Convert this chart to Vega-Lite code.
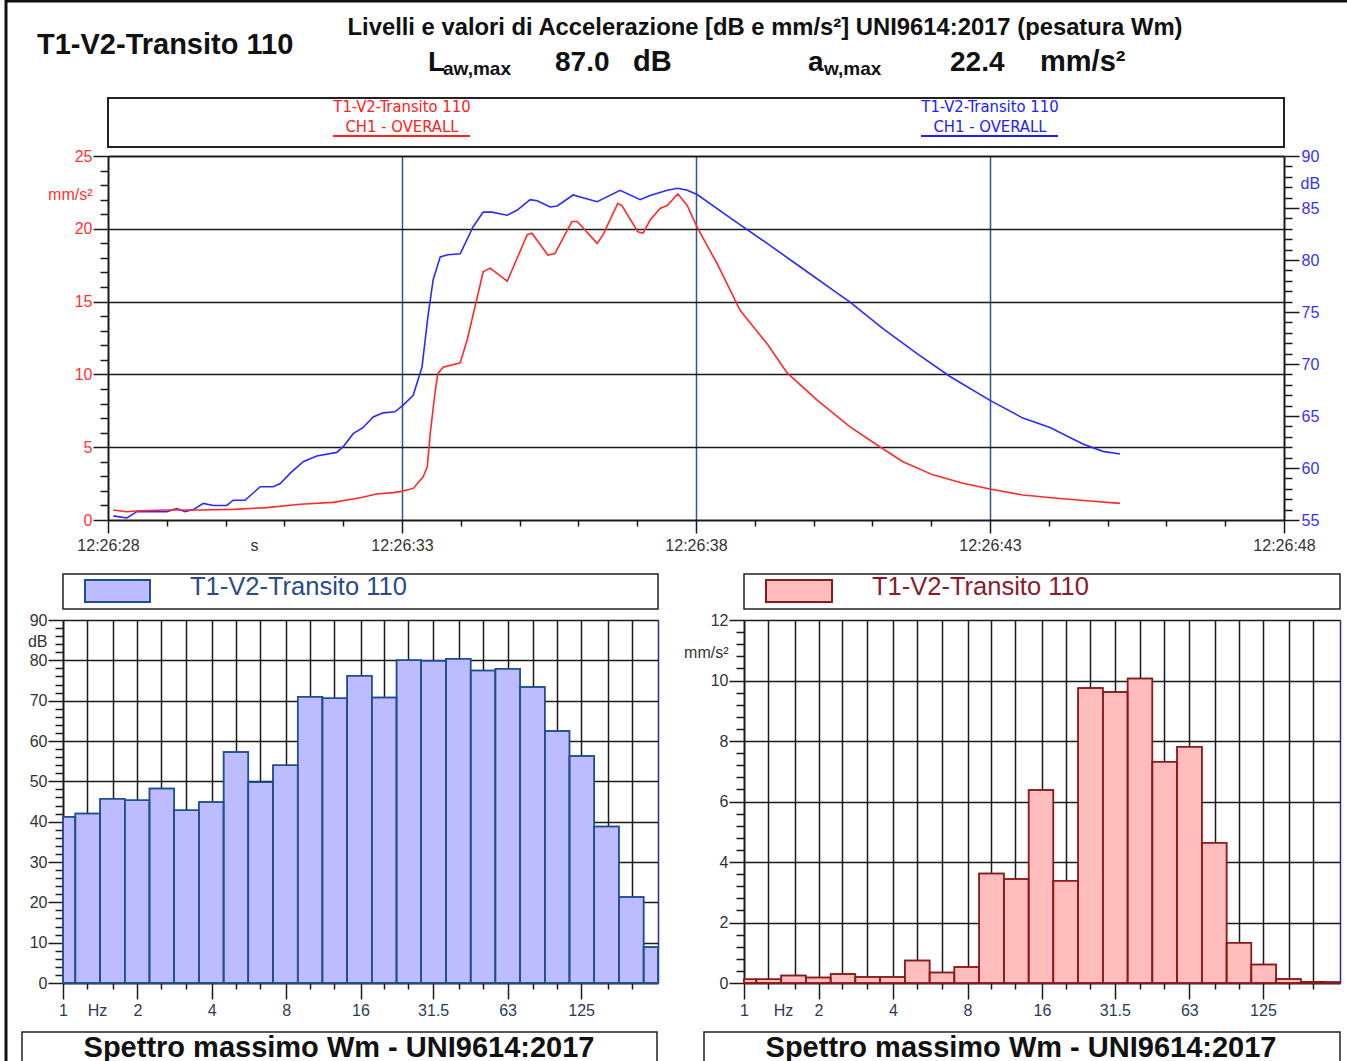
{
"$schema": "https://vega.github.io/schema/vega-lite/v6.json",
"width": 1350, "height": 1070,
"autosize": {"type": "none"},
"padding": {"left": 6, "top": 1, "right": 0, "bottom": 0},
"background": "white",
"config": {
  "view": {"stroke": "#111111", "strokeWidth": 3},
  "font": "Liberation Sans",
  "axis": {"labelFont": "Liberation Sans", "titleFont": "Liberation Sans", "labelOverlap": false, "labelFlush": false, "domainColor": "#1a1a1a", "domainWidth": 2, "tickColor": "#1a1a1a", "tickWidth": 1.5, "labelFontSize": 16, "titleFontSize": 16, "titleFontWeight": "normal"}
},
"datasets": {
  "one": [{"k": 1}],
  "red": [{"t":0.09,"mms":0.69},{"t":0.32,"mms":0.57},{"t":0.54,"mms":0.64},{"t":1.0,"mms":0.69},{"t":1.56,"mms":0.69},{"t":2.13,"mms":0.73},{"t":2.7,"mms":0.85},{"t":3.27,"mms":1.08},{"t":3.83,"mms":1.21},{"t":4.29,"mms":1.53},{"t":4.57,"mms":1.79},{"t":4.85,"mms":1.88},{"t":4.97,"mms":1.95},{"t":5.19,"mms":2.17},{"t":5.36,"mms":2.97},{"t":5.43,"mms":3.66},{"t":5.48,"mms":5.95},{"t":5.56,"mms":8.7},{"t":5.61,"mms":10.07},{"t":5.7,"mms":10.5},{"t":5.99,"mms":10.8},{"t":6.11,"mms":12.4},{"t":6.28,"mms":15.3},{"t":6.38,"mms":17.05},{"t":6.5,"mms":17.3},{"t":6.79,"mms":16.4},{"t":7.13,"mms":19.6},{"t":7.21,"mms":19.7},{"t":7.48,"mms":18.2},{"t":7.6,"mms":18.3},{"t":7.89,"mms":20.5},{"t":7.98,"mms":20.5},{"t":8.32,"mms":19.0},{"t":8.42,"mms":19.6},{"t":8.67,"mms":21.75},{"t":8.74,"mms":21.6},{"t":9.01,"mms":19.8},{"t":9.1,"mms":19.7},{"t":9.22,"mms":20.6},{"t":9.39,"mms":21.4},{"t":9.51,"mms":21.6},{"t":9.69,"mms":22.4},{"t":9.85,"mms":21.6},{"t":10.02,"mms":20.1},{"t":10.36,"mms":17.6},{"t":10.75,"mms":14.4},{"t":11.21,"mms":12.1},{"t":11.55,"mms":10.1},{"t":12.06,"mms":8.24},{"t":12.62,"mms":6.4},{"t":13.08,"mms":5.15},{"t":13.52,"mms":4.0},{"t":14.03,"mms":3.1},{"t":14.54,"mms":2.52},{"t":15.0,"mms":2.13},{"t":15.56,"mms":1.72},{"t":16.14,"mms":1.49},{"t":16.7,"mms":1.3},{"t":17.21,"mms":1.14}],
  "blue": [{"t":0.09,"db":55.4},{"t":0.32,"db":55.2},{"t":0.49,"db":55.8},{"t":0.83,"db":55.8},{"t":1.0,"db":55.8},{"t":1.17,"db":56.1},{"t":1.31,"db":55.8},{"t":1.45,"db":56.0},{"t":1.62,"db":56.6},{"t":1.79,"db":56.4},{"t":2.02,"db":56.4},{"t":2.13,"db":56.9},{"t":2.33,"db":56.9},{"t":2.59,"db":58.2},{"t":2.81,"db":58.2},{"t":2.93,"db":58.5},{"t":3.1,"db":59.5},{"t":3.32,"db":60.6},{"t":3.55,"db":61.15},{"t":3.89,"db":61.5},{"t":4.0,"db":62.05},{"t":4.17,"db":63.3},{"t":4.34,"db":63.9},{"t":4.51,"db":64.9},{"t":4.68,"db":65.3},{"t":4.88,"db":65.4},{"t":5.02,"db":66.05},{"t":5.19,"db":67.0},{"t":5.34,"db":69.7},{"t":5.44,"db":74.5},{"t":5.53,"db":78.1},{"t":5.65,"db":80.3},{"t":5.78,"db":80.5},{"t":5.99,"db":80.6},{"t":6.21,"db":83.2},{"t":6.38,"db":84.6},{"t":6.53,"db":84.6},{"t":6.79,"db":84.3},{"t":6.96,"db":84.8},{"t":7.18,"db":85.8},{"t":7.3,"db":85.7},{"t":7.52,"db":85.1},{"t":7.64,"db":85.2},{"t":7.91,"db":86.25},{"t":8.06,"db":86.0},{"t":8.32,"db":85.6},{"t":8.71,"db":86.7},{"t":9.05,"db":85.8},{"t":9.22,"db":86.2},{"t":9.51,"db":86.7},{"t":9.69,"db":86.9},{"t":9.85,"db":86.7},{"t":10.02,"db":86.3},{"t":10.63,"db":83.85},{"t":11.21,"db":81.6},{"t":11.77,"db":79.35},{"t":12.33,"db":77.1},{"t":12.62,"db":75.95},{"t":13.18,"db":73.4},{"t":13.76,"db":71.0},{"t":14.32,"db":68.8},{"t":15.0,"db":66.5},{"t":15.56,"db":64.8},{"t":16.02,"db":63.9},{"t":16.58,"db":62.3},{"t":16.92,"db":61.6},{"t":17.21,"db":61.35}],
  "bands": [{"band":"1","lo":0.891,"hi":1.122,"db":41.2,"mms":0.12},{"band":"1.25","lo":1.122,"hi":1.413,"db":42.0,"mms":0.12},{"band":"1.6","lo":1.413,"hi":1.778,"db":45.7,"mms":0.25},{"band":"2","lo":1.778,"hi":2.239,"db":45.3,"mms":0.18},{"band":"2.5","lo":2.239,"hi":2.818,"db":48.2,"mms":0.30},{"band":"3.15","lo":2.818,"hi":3.548,"db":42.8,"mms":0.2},{"band":"4","lo":3.548,"hi":4.467,"db":44.9,"mms":0.2},{"band":"5","lo":4.467,"hi":5.623,"db":57.3,"mms":0.74},{"band":"6.3","lo":5.623,"hi":7.079,"db":49.8,"mms":0.35},{"band":"8","lo":7.079,"hi":8.913,"db":54.0,"mms":0.53},{"band":"10","lo":8.913,"hi":11.22,"db":71.0,"mms":3.62},{"band":"12.5","lo":11.22,"hi":14.13,"db":70.6,"mms":3.44},{"band":"16","lo":14.13,"hi":17.78,"db":76.2,"mms":6.38},{"band":"20","lo":17.78,"hi":22.39,"db":70.8,"mms":3.38},{"band":"25","lo":22.39,"hi":28.18,"db":80.0,"mms":9.75},{"band":"31.5","lo":28.18,"hi":35.48,"db":79.9,"mms":9.62},{"band":"40","lo":35.48,"hi":44.67,"db":80.4,"mms":10.07},{"band":"50","lo":44.67,"hi":56.23,"db":77.5,"mms":7.31},{"band":"63","lo":56.23,"hi":70.79,"db":77.9,"mms":7.81},{"band":"80","lo":70.79,"hi":89.13,"db":73.4,"mms":4.64},{"band":"100","lo":89.13,"hi":112.2,"db":62.5,"mms":1.33},{"band":"125","lo":112.2,"hi":141.3,"db":56.3,"mms":0.61},{"band":"160","lo":141.3,"hi":177.8,"db":38.8,"mms":0.13},{"band":"200","lo":177.8,"hi":223.9,"db":21.3,"mms":0.04},{"band":"250","lo":223.9,"hi":281.8,"db":8.9,"mms":0.03}]
},
"layer": [
  {
    "data": {"name": "one"},
    "layer": [
      {"mark": {"type":"text","text":"T1-V2-Transito 110","fontSize":29,"fontWeight":"bold","color":"#111111","align":"left","baseline":"middle"},
       "encoding": {"x": {"datum": 31, "type":"quantitative","scale":{"domain":[0,1341],"range":[0,1341],"nice":false,"zero":false},"axis":null},
                    "y": {"datum": 44, "type":"quantitative","scale":{"domain":[0,96],"range":[0,96],"nice":false,"zero":false},"axis":null}}},
      {"mark": {"type":"text","text":"Livelli e valori di Accelerazione [dB e mm/s²] UNI9614:2017 (pesatura Wm)","fontSize":23.8,"fontWeight":"bold","color":"#111111","align":"center","baseline":"middle"},
       "encoding": {"x": {"datum": 759, "type":"quantitative","scale":{"domain":[0,1341],"range":[0,1341],"nice":false,"zero":false},"axis":null},
                    "y": {"datum": 27, "type":"quantitative","scale":{"domain":[0,96],"range":[0,96],"nice":false,"zero":false},"axis":null}}},
      {"mark": {"type":"text","text":"L","fontSize":28,"fontWeight":"bold","color":"#111111","align":"left","baseline":"alphabetic"},
       "encoding": {"x": {"datum": 422, "type":"quantitative","scale":{"domain":[0,1341],"range":[0,1341],"nice":false,"zero":false},"axis":null},
                    "y": {"datum": 70, "type":"quantitative","scale":{"domain":[0,96],"range":[0,96],"nice":false,"zero":false},"axis":null}}},
      {"mark": {"type":"text","text":"aw,max","fontSize":19,"fontWeight":"bold","color":"#111111","align":"left","baseline":"alphabetic"},
       "encoding": {"x": {"datum": 437, "type":"quantitative","scale":{"domain":[0,1341],"range":[0,1341],"nice":false,"zero":false},"axis":null},
                    "y": {"datum": 74, "type":"quantitative","scale":{"domain":[0,96],"range":[0,96],"nice":false,"zero":false},"axis":null}}},
      {"mark": {"type":"text","text":"87.0","fontSize":28,"fontWeight":"bold","color":"#111111","align":"left","baseline":"alphabetic"},
       "encoding": {"x": {"datum": 549, "type":"quantitative","scale":{"domain":[0,1341],"range":[0,1341],"nice":false,"zero":false},"axis":null},
                    "y": {"datum": 70, "type":"quantitative","scale":{"domain":[0,96],"range":[0,96],"nice":false,"zero":false},"axis":null}}},
      {"mark": {"type":"text","text":"dB","fontSize":29,"fontWeight":"bold","color":"#111111","align":"left","baseline":"alphabetic"},
       "encoding": {"x": {"datum": 627, "type":"quantitative","scale":{"domain":[0,1341],"range":[0,1341],"nice":false,"zero":false},"axis":null},
                    "y": {"datum": 70, "type":"quantitative","scale":{"domain":[0,96],"range":[0,96],"nice":false,"zero":false},"axis":null}}},
      {"mark": {"type":"text","text":"a","fontSize":28,"fontWeight":"bold","color":"#111111","align":"left","baseline":"alphabetic"},
       "encoding": {"x": {"datum": 802, "type":"quantitative","scale":{"domain":[0,1341],"range":[0,1341],"nice":false,"zero":false},"axis":null},
                    "y": {"datum": 70, "type":"quantitative","scale":{"domain":[0,96],"range":[0,96],"nice":false,"zero":false},"axis":null}}},
      {"mark": {"type":"text","text":"w,max","fontSize":19,"fontWeight":"bold","color":"#111111","align":"left","baseline":"alphabetic"},
       "encoding": {"x": {"datum": 818, "type":"quantitative","scale":{"domain":[0,1341],"range":[0,1341],"nice":false,"zero":false},"axis":null},
                    "y": {"datum": 74, "type":"quantitative","scale":{"domain":[0,96],"range":[0,96],"nice":false,"zero":false},"axis":null}}},
      {"mark": {"type":"text","text":"22.4","fontSize":28,"fontWeight":"bold","color":"#111111","align":"left","baseline":"alphabetic"},
       "encoding": {"x": {"datum": 944, "type":"quantitative","scale":{"domain":[0,1341],"range":[0,1341],"nice":false,"zero":false},"axis":null},
                    "y": {"datum": 70, "type":"quantitative","scale":{"domain":[0,96],"range":[0,96],"nice":false,"zero":false},"axis":null}}},
      {"mark": {"type":"text","text":"mm/s²","fontSize":29,"fontWeight":"bold","color":"#111111","align":"left","baseline":"alphabetic"},
       "encoding": {"x": {"datum": 1034, "type":"quantitative","scale":{"domain":[0,1341],"range":[0,1341],"nice":false,"zero":false},"axis":null},
                    "y": {"datum": 70, "type":"quantitative","scale":{"domain":[0,96],"range":[0,96],"nice":false,"zero":false},"axis":null}}}
    ]
  },
  {
    "data": {"name": "one"},
    "layer": [
      {"mark": {"type":"rect","fillOpacity":0,"stroke":"#222222","strokeWidth":2},
       "encoding": {"x": {"datum": 0, "type":"quantitative","scale":{"domain":[0,1176],"range":[102,1278],"nice":false,"zero":false},"axis":null},
                    "x2": {"datum": 1176},
                    "y": {"datum": 0, "type":"quantitative","scale":{"domain":[0,49],"range":[97,146],"nice":false,"zero":false},"axis":null},
                    "y2": {"datum": 49}}},
      {"mark": {"type":"text","text":"T1-V2-Transito 110","font":"DejaVu Sans Condensed, sans-serif","fontSize":16.5,"color":"#ff2020","align":"center","baseline":"middle"},
       "encoding": {"x": {"datum": 294, "type":"quantitative","scale":{"domain":[0,1176],"range":[102,1278],"nice":false,"zero":false},"axis":null},
                    "y": {"datum": 9, "type":"quantitative","scale":{"domain":[0,49],"range":[97,146],"nice":false,"zero":false},"axis":null}}},
      {"mark": {"type":"text","text":"CH1 - OVERALL","font":"DejaVu Sans Condensed, sans-serif","fontSize":16.5,"color":"#ff2020","align":"center","baseline":"middle"},
       "encoding": {"x": {"datum": 294, "type":"quantitative","scale":{"domain":[0,1176],"range":[102,1278],"nice":false,"zero":false},"axis":null},
                    "y": {"datum": 29, "type":"quantitative","scale":{"domain":[0,49],"range":[97,146],"nice":false,"zero":false},"axis":null}}},
      {"mark": {"type":"rule","color":"#ff2020","strokeWidth":2},
       "encoding": {"x": {"datum": 225, "type":"quantitative","scale":{"domain":[0,1176],"range":[102,1278],"nice":false,"zero":false},"axis":null},
                    "x2": {"datum": 362},
                    "y": {"datum": 38, "type":"quantitative","scale":{"domain":[0,49],"range":[97,146],"nice":false,"zero":false},"axis":null}}},
      {"mark": {"type":"text","text":"T1-V2-Transito 110","font":"DejaVu Sans Condensed, sans-serif","fontSize":16.5,"color":"#2020ff","align":"center","baseline":"middle"},
       "encoding": {"x": {"datum": 882, "type":"quantitative","scale":{"domain":[0,1176],"range":[102,1278],"nice":false,"zero":false},"axis":null},
                    "y": {"datum": 9, "type":"quantitative","scale":{"domain":[0,49],"range":[97,146],"nice":false,"zero":false},"axis":null}}},
      {"mark": {"type":"text","text":"CH1 - OVERALL","font":"DejaVu Sans Condensed, sans-serif","fontSize":16.5,"color":"#2020ff","align":"center","baseline":"middle"},
       "encoding": {"x": {"datum": 882, "type":"quantitative","scale":{"domain":[0,1176],"range":[102,1278],"nice":false,"zero":false},"axis":null},
                    "y": {"datum": 29, "type":"quantitative","scale":{"domain":[0,49],"range":[97,146],"nice":false,"zero":false},"axis":null}}},
      {"mark": {"type":"rule","color":"#2020ff","strokeWidth":2},
       "encoding": {"x": {"datum": 813, "type":"quantitative","scale":{"domain":[0,1176],"range":[102,1278],"nice":false,"zero":false},"axis":null},
                    "x2": {"datum": 950},
                    "y": {"datum": 38, "type":"quantitative","scale":{"domain":[0,49],"range":[97,146],"nice":false,"zero":false},"axis":null}}}
    ]
  },
  {
    "layer": [
      {
        "data": {"name": "blue"},
        "mark": {"type": "line", "color": "#2a2aff", "strokeWidth": 1.6},
        "encoding": {
          "x": {"field": "t", "type": "quantitative", "scale": {"domain": [0, 20], "range": [102, 1278], "nice": false, "zero": false},
                "axis": {"orient": "top", "offset": -155, "title": null, "labels": false, "ticks": false, "domain": true, "domainWidth": 2,
                         "values": [5, 10, 15], "grid": true, "gridColor": "#2b5b8b", "gridWidth": 1.5}},
          "y": {"field": "db", "type": "quantitative", "scale": {"domain": [55, 90], "range": [519, 155], "nice": false, "zero": false},
                "axis": {"orient": "right", "offset": -72, "title": "dB", "grid": false,
                         "values": [55,56,57,58,59,60,61,62,63,64,65,66,67,68,69,70,71,72,73,74,75,76,77,78,79,80,81,82,83,84,85,86,87,88,89,90],
                         "labelExpr": "datum.value % 5 == 0 ? '' + datum.value : ''",
                         "tickSize": {"condition": {"test": "datum.value % 5 == 0", "value": 15}, "value": 8},
                         "labelPadding": 2, "labelBaseline": "middle", "labelColor": "#3333ff",
                         "titleAngle": 0, "titleX": 16, "titleY": 182, "titleAlign": "left", "titleBaseline": "middle", "titleColor": "#3333ff"}}
        }
      },
      {
        "data": {"name": "red"},
        "mark": {"type": "line", "color": "#ff2a2a", "strokeWidth": 1.6},
        "encoding": {
          "x": {"field": "t", "type": "quantitative", "scale": {"domain": [0, 20], "range": [102, 1278], "nice": false, "zero": false},
                "axis": {"orient": "bottom", "offset": -551, "title": "s", "values": [0,1,2,3,4,5,6,7,8,9,10,11,12,13,14,15,16,17,18,19,20],
                         "labelExpr": "datum.value % 5 == 0 ? '12:26:' + (28 + datum.value) : ''",
                         "tickSize": {"condition": {"test": "datum.value % 5 == 0", "value": 13}, "value": 6},
                         "labelBaseline": "middle", "labelPadding": 12, "labelColor": "#333333", "grid": false,
                         "titleX": 248, "titleY": 25, "titleBaseline": "middle", "titleAlign": "center", "titleColor": "#333333"}},
          "y": {"field": "mms", "type": "quantitative", "scale": {"domain": [0, 25], "range": [519, 155], "nice": false, "zero": false},
                "axis": {"orient": "left", "offset": -102, "title": "mm/s²",
                         "values": [0,1,2,3,4,5,6,7,8,9,10,11,12,13,14,15,16,17,18,19,20,21,22,23,24,25],
                         "labelExpr": "datum.value % 5 == 0 ? '' + datum.value : ''",
                         "tickSize": {"condition": {"test": "datum.value % 5 == 0", "value": 15}, "value": 8},
                         "labelPadding": 1, "labelBaseline": "middle", "labelColor": "#ff3333",
                         "grid": true, "gridColor": "#1a1a1a", "gridWidth": 1.5,
                         "gridOpacity": {"condition": {"test": "datum.value % 5 == 0 && datum.value > 0 && datum.value < 25", "value": 1}, "value": 0},
                         "titleAngle": 0, "titleX": -16, "titleY": 193, "titleAlign": "right", "titleBaseline": "middle", "titleColor": "#ff3333"}}
        }
      }
    ],
    "resolve": {"scale": {"y": "independent"}, "axis": {"x": "independent"}}
  },
  {
    "data": {"name": "bands"},
    "layer": [
      {
        "mark": {"type": "rect", "fill": "#bcbcff", "stroke": "#1f4f8f", "strokeWidth": 1.5},
        "encoding": {
          "x": {"field": "lo", "type": "quantitative", "scale": {"type": "log", "base": 2, "domain": [1, 256], "range": [57, 652], "nice": false, "clamp": true},
                "axis": {"orient": "top", "offset": -619, "title": null, "labels": false, "ticks": false, "domain": false,
                         "values": [1,1.25,1.6,2,2.5,3.15,4,5,6.3,8,10,12.5,16,20,25,31.5,40,50,63,80,100,125,160,200,256],
                         "grid": true, "gridWidth": 1.5,
                         "gridColor": {"condition": {"test": "datum.value == 256", "value": "#2a2aa0"}, "value": "#1a1a1a"},
                         "gridOpacity": {"condition": {"test": "datum.value == 1", "value": 0}, "value": 1}}},
          "x2": {"field": "hi"},
          "y": {"field": "db", "type": "quantitative", "scale": {"domain": [0, 90], "range": [982, 619], "nice": false, "zero": false},
                "axis": {"orient": "left", "offset": -57, "title": "dB", "values": [0,2,4,6,8,10,12,14,16,18,20,22,24,26,28,30,32,34,36,38,40,42,44,46,48,50,52,54,56,58,60,62,64,66,68,70,72,74,76,78,80,82,84,86,88,90],
                         "labelExpr": "datum.value % 10 == 0 ? '' + datum.value : ''",
                         "tickSize": {"condition": {"test": "datum.value % 10 == 0", "value": 15}, "value": 8},
                         "labelPadding": 1, "labelBaseline": "middle", "labelColor": "#333333",
                         "grid": true, "gridColor": "#1a1a1a", "gridWidth": 1.5,
                         "gridOpacity": {"condition": {"test": "datum.value % 10 == 0 && datum.value > 0", "value": 1}, "value": 0},
                         "titleAngle": 0, "titleX": -16, "titleY": 640, "titleAlign": "right", "titleBaseline": "middle", "titleColor": "#333333"}},
          "y2": {"datum": 0}
        }
      },
      {
        "mark": {"type": "rect", "fillOpacity": 0, "stroke": "#1f4f8f", "strokeWidth": 1.5},
        "encoding": {
          "x": {"field": "lo", "type": "quantitative", "scale": {"type": "log", "base": 2, "domain": [1, 256], "range": [57, 652], "nice": false, "clamp": true},
                "axis": {"orient": "bottom", "offset": -88, "title": "Hz", "values": [1,1.25,1.6,2,2.5,3.15,4,5,6.3,8,10,12.5,16,20,25,31.5,40,50,63,80,100,125,160,200],
                         "labelExpr": "indexof([1,2,4,8,16,31.5,63,125], datum.value) >= 0 ? '' + datum.value : ''",
                         "tickSize": {"condition": {"test": "indexof([1,2,4,8,16,31.5,63,125], datum.value) >= 0", "value": 16}, "value": 6},
                         "labelBaseline": "middle", "labelPadding": 11, "labelColor": "#2b3b5b", "grid": false,
                         "titleX": 91, "titleY": 27, "titleBaseline": "middle", "titleAlign": "center", "titleColor": "#2b3b5b"}},
          "x2": {"field": "hi"},
          "y": {"field": "db", "type": "quantitative", "scale": {"domain": [0, 90], "range": [982, 619], "nice": false, "zero": false}, "axis": null},
          "y2": {"datum": 0}
        }
      }
    ],
    "resolve": {"axis": {"x": "independent", "y": "independent"}}
  },
  {
    "data": {"name": "bands"},
    "layer": [
      {
        "mark": {"type": "rect", "fill": "#ffbdbd", "stroke": "#8b1a1a", "strokeWidth": 1.5},
        "encoding": {
          "x": {"field": "lo", "type": "quantitative", "scale": {"type": "log", "base": 2, "domain": [1, 256], "range": [738, 1334], "nice": false, "clamp": true},
                "axis": {"orient": "top", "offset": -619, "title": null, "labels": false, "ticks": false, "domain": false,
                         "values": [1,1.25,1.6,2,2.5,3.15,4,5,6.3,8,10,12.5,16,20,25,31.5,40,50,63,80,100,125,160,200,256],
                         "grid": true, "gridWidth": 1.5,
                         "gridColor": {"condition": {"test": "datum.value == 256", "value": "#2a2aa0"}, "value": "#1a1a1a"},
                         "gridOpacity": {"condition": {"test": "datum.value == 1", "value": 0}, "value": 1}}},
          "x2": {"field": "hi"},
          "y": {"field": "mms", "type": "quantitative", "scale": {"domain": [0, 12], "range": [982, 619], "nice": false, "zero": false},
                "axis": {"orient": "left", "offset": -738, "title": "mm/s²", "values": [0,0.4,0.8,1.2,1.6,2,2.4,2.8,3.2,3.6,4,4.4,4.8,5.2,5.6,6,6.4,6.8,7.2,7.6,8,8.4,8.8,9.2,9.6,10,10.4,10.8,11.2,11.6,12],
                         "labelExpr": "datum.value % 2 == 0 ? '' + datum.value : ''",
                         "tickSize": {"condition": {"test": "datum.value % 2 == 0", "value": 15}, "value": 8},
                         "labelPadding": 1, "labelBaseline": "middle", "labelColor": "#333333",
                         "grid": true, "gridColor": "#1a1a1a", "gridWidth": 1.5,
                         "gridOpacity": {"condition": {"test": "datum.value % 2 == 0 && datum.value > 0", "value": 1}, "value": 0},
                         "titleAngle": 0, "titleX": -16, "titleY": 651, "titleAlign": "right", "titleBaseline": "middle", "titleColor": "#333333"}},
          "y2": {"datum": 0}
        }
      },
      {
        "mark": {"type": "rect", "fillOpacity": 0, "stroke": "#8b1a1a", "strokeWidth": 1.5},
        "encoding": {
          "x": {"field": "lo", "type": "quantitative", "scale": {"type": "log", "base": 2, "domain": [1, 256], "range": [738, 1334], "nice": false, "clamp": true},
                "axis": {"orient": "bottom", "offset": -88, "title": "Hz", "values": [1,1.25,1.6,2,2.5,3.15,4,5,6.3,8,10,12.5,16,20,25,31.5,40,50,63,80,100,125,160,200],
                         "labelExpr": "indexof([1,2,4,8,16,31.5,63,125], datum.value) >= 0 ? '' + datum.value : ''",
                         "tickSize": {"condition": {"test": "indexof([1,2,4,8,16,31.5,63,125], datum.value) >= 0", "value": 16}, "value": 6},
                         "labelBaseline": "middle", "labelPadding": 11, "labelColor": "#2b3b5b", "grid": false,
                         "titleX": 777, "titleY": 27, "titleBaseline": "middle", "titleAlign": "center", "titleColor": "#2b3b5b"}},
          "x2": {"field": "hi"},
          "y": {"field": "mms", "type": "quantitative", "scale": {"domain": [0, 12], "range": [982, 619], "nice": false, "zero": false}, "axis": null},
          "y2": {"datum": 0}
        }
      }
    ],
    "resolve": {"axis": {"x": "independent", "y": "independent"}}
  },
  {
    "data": {"name": "one"},
    "layer": [
      {"mark": {"type":"rect","fillOpacity":0,"stroke":"#222222","strokeWidth":1.5},
       "encoding": {"x": {"datum": 0, "type":"quantitative","scale":{"domain":[0,595],"range":[57,652],"nice":false,"zero":false},"axis":null},
                    "x2": {"datum": 595},
                    "y": {"datum": 0, "type":"quantitative","scale":{"domain":[0,35],"range":[573,608],"nice":false,"zero":false},"axis":null},
                    "y2": {"datum": 35}}},
      {"mark": {"type":"rect","fill":"#bcbcff","stroke":"#1f4f8f","strokeWidth":2},
       "encoding": {"x": {"datum": 22, "type":"quantitative","scale":{"domain":[0,595],"range":[57,652],"nice":false,"zero":false},"axis":null},
                    "x2": {"datum": 87},
                    "y": {"datum": 6, "type":"quantitative","scale":{"domain":[0,35],"range":[573,608],"nice":false,"zero":false},"axis":null},
                    "y2": {"datum": 28}}},
      {"mark": {"type":"text","text":"T1-V2-Transito 110","fontSize":25.5,"color":"#2a4a8a","align":"left","baseline":"middle"},
       "encoding": {"x": {"datum": 127, "type":"quantitative","scale":{"domain":[0,595],"range":[57,652],"nice":false,"zero":false},"axis":null},
                    "y": {"datum": 13, "type":"quantitative","scale":{"domain":[0,35],"range":[573,608],"nice":false,"zero":false},"axis":null}}}
    ]
  },
  {
    "data": {"name": "one"},
    "layer": [
      {"mark": {"type":"rect","fillOpacity":0,"stroke":"#222222","strokeWidth":1.5},
       "encoding": {"x": {"datum": 0, "type":"quantitative","scale":{"domain":[0,596],"range":[738,1334],"nice":false,"zero":false},"axis":null},
                    "x2": {"datum": 596},
                    "y": {"datum": 0, "type":"quantitative","scale":{"domain":[0,35],"range":[573,608],"nice":false,"zero":false},"axis":null},
                    "y2": {"datum": 35}}},
      {"mark": {"type":"rect","fill":"#ffbdbd","stroke":"#8b1a1a","strokeWidth":2},
       "encoding": {"x": {"datum": 22, "type":"quantitative","scale":{"domain":[0,596],"range":[738,1334],"nice":false,"zero":false},"axis":null},
                    "x2": {"datum": 88},
                    "y": {"datum": 6, "type":"quantitative","scale":{"domain":[0,35],"range":[573,608],"nice":false,"zero":false},"axis":null},
                    "y2": {"datum": 28}}},
      {"mark": {"type":"text","text":"T1-V2-Transito 110","fontSize":25.5,"color":"#8b1a2a","align":"left","baseline":"middle"},
       "encoding": {"x": {"datum": 128, "type":"quantitative","scale":{"domain":[0,596],"range":[738,1334],"nice":false,"zero":false},"axis":null},
                    "y": {"datum": 13, "type":"quantitative","scale":{"domain":[0,35],"range":[573,608],"nice":false,"zero":false},"axis":null}}}
    ]
  },
  {
    "data": {"name": "one"},
    "layer": [
      {"mark": {"type":"rect","fillOpacity":0,"stroke":"#222222","strokeWidth":1.5},
       "encoding": {"x": {"datum": 0, "type":"quantitative","scale":{"domain":[0,635],"range":[16,651],"nice":false,"zero":false},"axis":null},
                    "x2": {"datum": 635},
                    "y": {"datum": 0, "type":"quantitative","scale":{"domain":[0,45],"range":[1031,1076],"nice":false,"zero":false},"axis":null},
                    "y2": {"datum": 45}}},
      {"mark": {"type":"text","text":"Spettro massimo Wm - UNI9614:2017","fontSize":29,"fontWeight":"bold","color":"#111111","align":"center","baseline":"middle"},
       "encoding": {"x": {"datum": 317, "type":"quantitative","scale":{"domain":[0,635],"range":[16,651],"nice":false,"zero":false},"axis":null},
                    "y": {"datum": 16, "type":"quantitative","scale":{"domain":[0,45],"range":[1031,1076],"nice":false,"zero":false},"axis":null}}}
    ]
  },
  {
    "data": {"name": "one"},
    "layer": [
      {"mark": {"type":"rect","fillOpacity":0,"stroke":"#222222","strokeWidth":1.5},
       "encoding": {"x": {"datum": 0, "type":"quantitative","scale":{"domain":[0,636],"range":[698,1334],"nice":false,"zero":false},"axis":null},
                    "x2": {"datum": 636},
                    "y": {"datum": 0, "type":"quantitative","scale":{"domain":[0,45],"range":[1031,1076],"nice":false,"zero":false},"axis":null},
                    "y2": {"datum": 45}}},
      {"mark": {"type":"text","text":"Spettro massimo Wm - UNI9614:2017","fontSize":29,"fontWeight":"bold","color":"#111111","align":"center","baseline":"middle"},
       "encoding": {"x": {"datum": 317, "type":"quantitative","scale":{"domain":[0,636],"range":[698,1334],"nice":false,"zero":false},"axis":null},
                    "y": {"datum": 16, "type":"quantitative","scale":{"domain":[0,45],"range":[1031,1076],"nice":false,"zero":false},"axis":null}}}
    ]
  }
],
"resolve": {"scale": {"x": "independent", "y": "independent"}}
}
